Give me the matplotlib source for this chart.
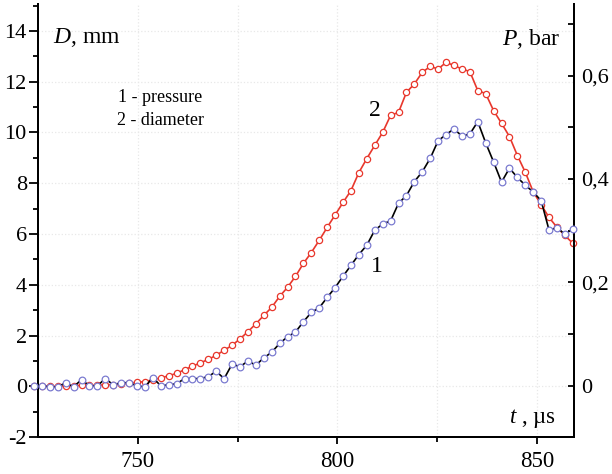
import numpy as np
import matplotlib
matplotlib.use("Agg")
import matplotlib.pyplot as plt
from matplotlib.ticker import FixedLocator, MultipleLocator

plt.rcParams['font.family'] = ['Liberation Serif', 'DejaVu Serif']
plt.rcParams['mathtext.fontset'] = 'custom'
plt.rcParams['mathtext.rm'] = 'Liberation Serif'
plt.rcParams['mathtext.it'] = 'Liberation Serif:italic'
plt.rcParams['axes.unicode_minus'] = False

# sampling times, microseconds (about 2 us step)
t = np.linspace(724, 859, 69)

# curve 2 - diameter, mm
diameter = [0, 0, 0, 0, 0.02, 0.02, 0.04, 0.04, 0.04, 0.06, 0.06, 0.08, 0.12, 0.16,
            0.18, 0.26, 0.33, 0.41, 0.51, 0.65, 0.79, 0.92, 1.06, 1.22, 1.42, 1.61,
            1.87, 2.15, 2.46, 2.79, 3.11, 3.54, 3.9, 4.33, 4.84, 5.27, 5.75, 6.26,
            6.75, 7.24, 7.71, 8.42, 8.97, 9.49, 10.0, 10.67, 10.79, 11.58, 11.91,
            12.37, 12.6, 12.5, 12.76, 12.64, 12.5, 12.4, 11.65, 11.53, 10.86, 10.36,
            9.84, 9.09, 8.43, 7.66, 7.15, 6.65, 6.26, 5.94, 5.63]

# curve 1 - pressure, bar
pressure = [0.0, 0.0, -0.002, -0.002, 0.006, -0.002, 0.012, 0.0, 0.0, 0.014, 0.002,
            0.006, 0.006, 0.0, -0.002, 0.016, 0.0, 0.002, 0.004, 0.014, 0.014, 0.014,
            0.018, 0.028, 0.014, 0.042, 0.037, 0.048, 0.04, 0.054, 0.065, 0.082,
            0.095, 0.104, 0.124, 0.142, 0.151, 0.171, 0.19, 0.212, 0.233, 0.254,
            0.272, 0.301, 0.313, 0.319, 0.353, 0.368, 0.395, 0.414, 0.44, 0.474,
            0.486, 0.497, 0.483, 0.487, 0.511, 0.47, 0.433, 0.394, 0.421, 0.403,
            0.388, 0.375, 0.358, 0.301, 0.306, 0.293, 0.304]

p_ticks = [0, 0.2, 0.4, 0.6]
p_labels = ['0', '0,2', '0,4', '0,6']

fig = plt.figure(figsize=(6.12, 4.74), dpi=100)
ax = fig.add_axes([0.062, 0.078, 0.876, 0.913])
ax2 = ax.twinx()

red = '#e8372c'
blue = '#7b7bd0'

ax.plot(t, diameter, color=red, lw=1.2, marker='o', ms=4.5, mfc='white',
        mec=red, mew=0.9, clip_on=False, zorder=3)
ax2.plot(t, pressure, color='black', lw=1.2, marker='o', ms=4.8, mfc='white',
         mec=blue, mew=0.9, clip_on=False, zorder=3)

ax.set_xlim(725, 859.3)
ax.set_ylim(-2, 15.05)
ax2.set_ylim(-0.099, 0.738)

ax.xaxis.set_major_locator(FixedLocator([750, 800, 850]))
ax.xaxis.set_minor_locator(FixedLocator([775, 825]))
ax.yaxis.set_major_locator(MultipleLocator(2))
ax.yaxis.set_minor_locator(MultipleLocator(1))
ax2.yaxis.set_major_locator(FixedLocator(p_ticks))
ax2.set_yticklabels(p_labels)
ax2.yaxis.set_minor_locator(FixedLocator([0.1, 0.3, 0.5, 0.7]))

ax.grid(True, which='both', axis='x', color='#e8e8e8', ls=':', lw=0.9)
ax.grid(True, which='major', axis='y', color='#e8e8e8', ls=':', lw=0.9)

for a in (ax, ax2):
    a.spines['top'].set_visible(False)
    for s in ('left', 'right', 'bottom'):
        a.spines[s].set_linewidth(1.4)

ax.tick_params(axis='y', which='major', direction='out', length=6.5, width=1.3,
               labelsize=16, pad=1.5)
ax.tick_params(axis='y', which='minor', direction='out', length=3.6, width=1.3)
ax.tick_params(axis='x', which='major', direction='out', length=5, width=1.3,
               labelsize=16.5, pad=5)
ax.tick_params(axis='x', which='minor', direction='out', length=3.8, width=1.3)
ax2.tick_params(axis='y', which='both', direction='in', length=4.5, width=1.3,
                labelsize=16, pad=5)

ax.text(0.028, 0.91, r'$D$, mm', transform=ax.transAxes, fontsize=17, va='baseline')
ax.text(0.974, 0.905, r'$P$, bar', transform=ax.transAxes, fontsize=17,
        ha='right', va='baseline')
ax.text(0.966, 0.032, r'$t$ , µs', transform=ax.transAxes, fontsize=16.5,
        ha='right', va='baseline')
ax.text(0.228, 0.785, '1 - pressure', transform=ax.transAxes, fontsize=13,
        ha='center', va='center')
ax.text(0.228, 0.732, '2 - diameter', transform=ax.transAxes, fontsize=13,
        ha='center', va='center')
ax.text(809.3, 10.87, '2', fontsize=17, ha='center', va='center')
ax.text(810, 4.72, '1', fontsize=17, ha='center', va='center')

fig.savefig('out.png', dpi=100)
